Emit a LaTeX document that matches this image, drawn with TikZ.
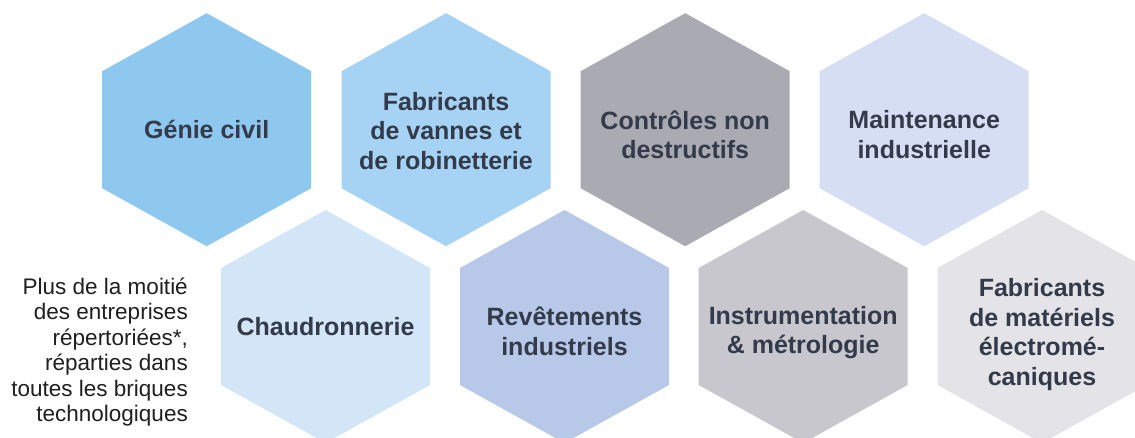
\documentclass[tikz,border=0pt]{standalone}
\usepackage{fontspec}
\setmainfont{Liberation Sans}
\usetikzlibrary{positioning}

\definecolor{hexA}{HTML}{8EC8EE}
\definecolor{hexB}{HTML}{A6D3F3}
\definecolor{hexC}{HTML}{A9AAB2}
\definecolor{hexD}{HTML}{D5DEF2}
\definecolor{hexE}{HTML}{D3E6F7}
\definecolor{hexF}{HTML}{B7C8E8}
\definecolor{hexG}{HTML}{C7C7CD}
\definecolor{hexH}{HTML}{E3E3E8}
\definecolor{ink}{HTML}{333A4A}

\begin{document}
\begin{tikzpicture}[x=1pt,y=-1pt,
	hexlabel/.style={align=center,text=ink,font=\fontsize{25}{29.6}\selectfont\bfseries,inner sep=0pt},
	sidenote/.style={align=right,text=black!88,font=\fontsize{22.5}{25.4}\selectfont,inner sep=0pt}]
		\def\hw{104.5}
		\def\hh{116.5}
		\def\hs{58.5}
		\useasboundingbox (0,0) rectangle (1135,438);
		\clip (0,0) rectangle (1135,438);

		%hexagons
		\foreach \cx/\cy/\dy/\col/\nm/\txt in {
			206.7/129.7/0/hexA/civil/{G\'enie civil},
			446/129.7/1/hexB/vannes/{Fabricants\\de vannes et\\de robinetterie},
			685.2/129.7/5/hexC/cnd/{Contr\^oles non\\destructifs},
			924.2/129.7/5/hexD/maint/{Maintenance\\industrielle},
			325.5/326.5/0/hexE/chaud/{Chaudronnerie},
			564.5/326.5/5/hexF/revet/{Rev\^etements\\industriels},
			803.2/326.5/6/hexG/instru/{Instrumentation\\\& m\'etrologie},
			1042/326.5/8/hexH/electro/{Fabricants\\de mat\'eriels\\\'electrom\'e-\\caniques}}{
			\fill[\col] (\cx,\cy-\hh) -- (\cx+\hw,\cy-\hs) -- (\cx+\hw,\cy+\hs)
				-- (\cx,\cy+\hh) -- (\cx-\hw,\cy+\hs) -- (\cx-\hw,\cy-\hs) -- cycle;
			\node[hexlabel] (\nm) at (\cx,\cy+\dy) {\txt};
		}

		%note
		\node[sidenote,anchor=east] (note) at (188,352) {Plus de la moiti\'e\\des entreprises\\r\'epertori\'ees*,\\r\'eparties dans\\toutes les briques\\technologiques};
	\end{tikzpicture}
\end{document}
